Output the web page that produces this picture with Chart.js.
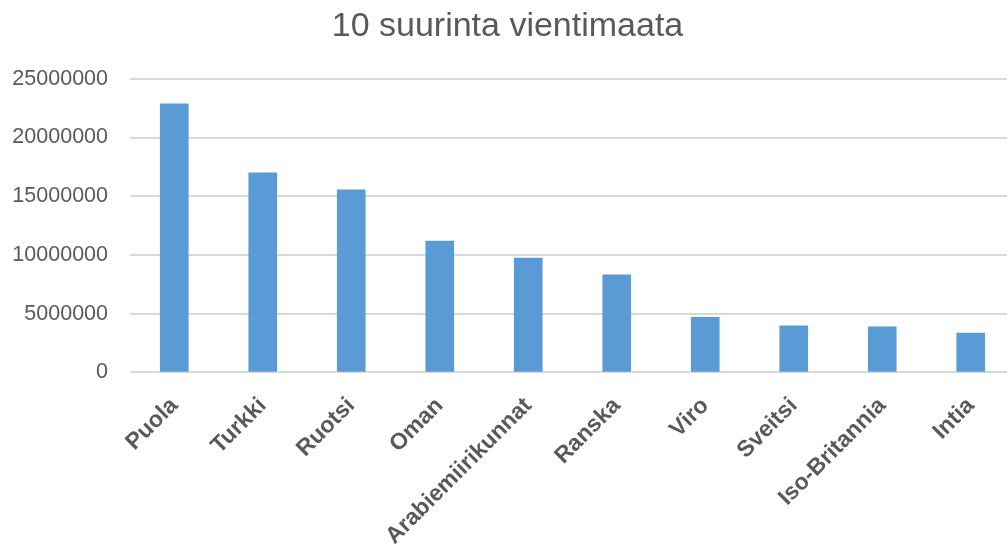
<!DOCTYPE html>
<html>
<head>
<meta charset="utf-8">
<script src="https://cdn.jsdelivr.net/npm/chart.js@4.4.0/dist/chart.umd.min.js"></script>
<style>
  html, body { margin: 0; padding: 0; background: #ffffff; overflow: hidden; }
  #wrap { position: relative; width: 1034px; height: 550px; }
</style>
</head>
<body>
<div id="wrap"><canvas id="c"></canvas></div>
<script>
const chartTitle = "10 suurinta vientimaata";
const categories = ["Puola", "Turkki", "Ruotsi", "Oman", "Arabiemiirikunnat", "Ranska", "Viro", "Sveitsi", "Iso-Britannia", "Intia"];
const exportValues = [22870000, 17000000, 15550000, 11180000, 9730000, 8300000, 4690000, 3950000, 3870000, 3350000];
const yTicks = [0, 5000000, 10000000, 15000000, 20000000, 25000000];

const textColor = "#595959";
const gridColor = "#D9D9D9";
const barColor = "#5B9BD5";

new Chart(document.getElementById("c"), {
  type: "bar",
  data: {
    labels: categories,
    datasets: [{
      label: chartTitle,
      data: exportValues,
      backgroundColor: barColor,
      borderWidth: 0,
      barThickness: 28
    }]
  },
  options: {
    responsive: true,
    maintainAspectRatio: false,
    animation: false,
    layout: { padding: { left: 0, right: 19, top: 0, bottom: 0 } },
    plugins: {
      legend: { display: false },
      tooltip: { enabled: false },
      title: {
        display: true,
        text: chartTitle,
        color: textColor,
        font: { family: "Liberation Sans", size: 34, weight: "normal" },
        padding: { top: 6, bottom: 32 }
      }
    },
    scales: {
      x: {
        grid: { display: false, drawTicks: false },
        border: { display: false },
        ticks: {
          color: textColor,
          font: { family: "Liberation Sans", size: 23, weight: "bold" },
          maxRotation: 45,
          minRotation: 45,
          padding: 20,
          autoSkip: false
        },
        afterFit: (s) => { s.height = 177.7; }
      },
      y: {
        min: 0,
        max: 25000000,
        afterBuildTicks: (s) => { s.ticks = yTicks.map(v => ({ value: v })); },
        grid: { color: gridColor, lineWidth: 2, drawTicks: false },
        border: { display: false },
        ticks: {
          color: textColor,
          font: { family: "Liberation Sans", size: 21.5 },
          padding: 22,
          callback: (v) => String(v)
        },
        afterFit: (s) => { s.width = 130; }
      }
    }
  }
});
</script>
</body>
</html>
